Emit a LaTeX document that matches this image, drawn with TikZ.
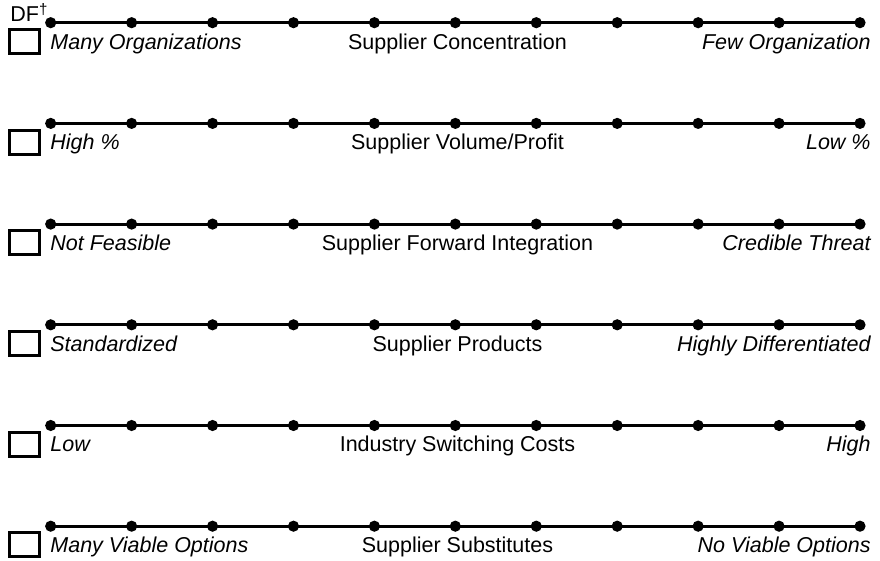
\documentclass[tikz,border=0pt]{standalone}
\usepackage{fontspec}
\setmainfont{Liberation Sans}

\begin{document}
\begin{tikzpicture}[x=0.5pt,y=-0.5pt]
    \tikzset{
        tick/.style={circle,fill,inner sep=0pt,minimum size=5.6pt},
        scale line/.style={line width=1.5pt},
        check box/.style={draw,line width=1.5pt,minimum width=15pt,minimum height=12pt,inner sep=0pt},
        end label/.style={font=\fontsize{10.75}{13}\selectfont\itshape,inner sep=0pt},
        factor label/.style={font=\fontsize{10.75}{13}\selectfont,inner sep=0pt}
    }
    \useasboundingbox (0,0) rectangle (880,561);
    \node[factor label,anchor=base west] (df) at (10,22) {DF\textsuperscript{†}};
    \foreach \low/\factor/\high [count=\r from 0] in {
        Many Organizations/Supplier Concentration/Few Organization,
        High \%/{Supplier Volume/Profit}/Low \%,
        Not Feasible/Supplier Forward Integration/Credible Threat,
        Standardized/Supplier Products/Highly Differentiated,
        Low/Industry Switching Costs/High,
        Many Viable Options/Supplier Substitutes/No Viable Options
    }{
        \pgfmathsetmacro{\ry}{22.7+100.7*\r}
        \foreach \d in {0,...,10}
            \coordinate (p\r-\d) at (50.7+80.93*\d,\ry);
        \draw[scale line] (p\r-0) -- (p\r-10);
        \foreach \d in {0,...,10}
            \node[tick] (t\r-\d) at (p\r-\d) {};
        \node[check box,anchor=north west] (box\r) at (8,\ry+5.3) {};
        \node[end label,anchor=base west] (low\r) at (50,\ry+26.5) {\low};
        \node[factor label,anchor=base] (factor\r) at (457.5,\ry+26.5) {\factor};
        \node[end label,anchor=base east] (high\r) at (871,\ry+26.5) {\high};
    }
\end{tikzpicture}
\end{document}
